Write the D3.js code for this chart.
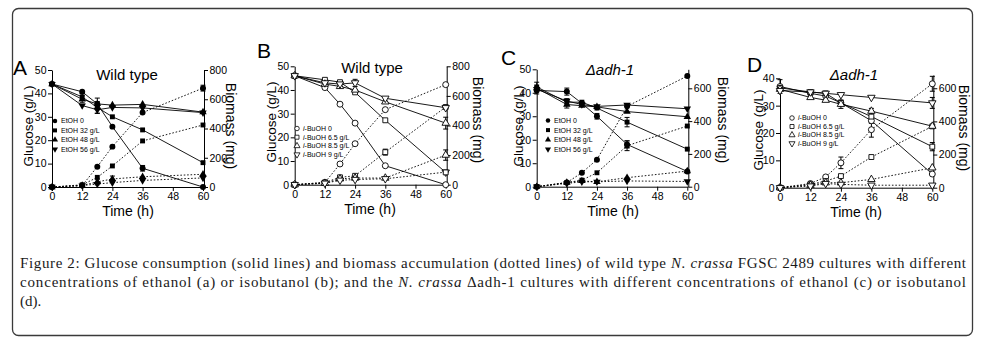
<!DOCTYPE html>
<html>
<head>
<meta charset="utf-8">
<script src="https://cdn.jsdelivr.net/npm/d3@7"></script>
<style>
body { margin: 0; background: #fff; }
svg text { font-family: "Liberation Sans", Arial, sans-serif; font-weight: 400; fill: #000; }
.caption { font-family: "Liberation Serif", "Times New Roman", serif; font-size: 15px; fill: #1a1a1a; }
</style>
</head>
<body>
<svg id="fig" width="981" height="341"></svg>
<script>
// Data ////////////////////////////////////////////////////////////////

var times = [0, 12, 18, 24, 36, 60];
var xTicks = [0, 12, 24, 36, 48, 60];

var etohLabels = ["EtOH 0", "EtOH 32 g/L", "EtOH 48 g/L", "EtOH 56 g/L"];
var ibuohLabels = ["0", "6.5 g/L", "8.5 g/L", "9 g/L"];

// A - wild type, ethanol
var glucoseA = [
    [44, 40.7, 35.5, 25.8, 8, 0],
    [44, 38.5, 34, 30, 24.4, 10.4],
    [44, 37.5, 35.5, 35, 35.3, 32],
    [44, 34.8, 33, 34, 33.8, 31.8]
];
var glucoseErrA = [
    [0.5, 1, 1, 0.5, 1.2, 0.3],
    [0.5, 1.5, 2.5, 0.5, 0.5, 0.5],
    [0.5, 1.5, 2.5, 0.5, 0.5, 0.5],
    [0.5, 1, 1.5, 0.5, 0.5, 0.5]
];
var biomassA = [
    [0, 10, 139, 276, 509, 676],
    [0, 15, 66, 144, 315, 424],
    [0, 10, 35, 55, 70, 87],
    [0, 10, 20, 30, 45, 62]
];
var biomassErrA = [
    [0, 5, 5, 5, 10, 20],
    [0, 5, 5, 5, 5, 5],
    [0, 5, 20, 20, 5, 10],
    [0, 5, 10, 10, 5, 5]
];

// B - wild type, isobutanol
var glucoseB = [
    [46, 41, 34, 26, 8, 0],
    [46, 44.3, 43.3, 39, 27.2, 5.2],
    [46, 42.5, 41.5, 40, 35, 26],
    [46, 43, 42.5, 43, 36.5, 32.5]
];
var glucoseErrB = [
    [0.5, 0.5, 0.5, 0.5, 0.5, 0.3],
    [0.5, 0.5, 0.5, 0.5, 0.5, 0.5],
    [0.5, 1, 1, 1, 1, 2.5],
    [0.5, 0.5, 0.5, 1.5, 1, 0.5]
];
var biomassB = [
    [0, 15, 140, 277, 507, 676],
    [0, 15, 50, 60, 220, 525],
    [0, 10, 40, 45, 45, 200],
    [0, 10, 30, 35, 40, 85]
];
var biomassErrB = [
    [0, 5, 5, 5, 5, 10],
    [0, 5, 5, 5, 20, 10],
    [0, 5, 5, 5, 5, 35],
    [0, 5, 5, 5, 5, 5]
];

// C - adh-1 deletion, ethanol
var glucoseC = [
    [41, 40.5, 35.5, 30, 18, 6.5],
    [42.5, 36, 36, 33.5, 27.5, 16],
    [42, 35, 34.5, 34, 32, 29.8],
    [41.5, 36.5, 35, 34.2, 34.8, 33.2]
];
var glucoseErrC = [
    [1.5, 1.5, 0.5, 1.2, 1.5, 0.5],
    [2, 1.5, 1, 1, 2, 0.5],
    [1, 1.5, 1, 0.5, 0.5, 0.3],
    [1, 1, 1, 0.5, 0.5, 0.3]
];
var biomassC = [
    [0, 25, 85, 165, 490, 675],
    [0, 25, 40, 85, 250, 370],
    [0, 25, 35, 30, 55, 95],
    [0, 20, 30, 30, 35, 32]
];
var biomassErrC = [
    [0, 5, 5, 5, 10, 10],
    [0, 5, 5, 5, 30, 5],
    [0, 5, 10, 5, 10, 5],
    [0, 5, 5, 5, 5, 5]
];

// D - adh-1 deletion, isobutanol
var glucoseD = [
    [37, 34.5, 33.5, 31, 24.5, 5],
    [36.5, 35, 34.5, 31, 26, 15],
    [36, 33, 32, 30.5, 28, 22.5],
    [35.5, 35, 34.5, 34, 33, 31]
];
var glucoseErrD = [
    [2.5, 0.5, 0.5, 0.5, 1, 0.5],
    [0.5, 0.5, 0.5, 1, 1.5, 1.5],
    [0.5, 0.5, 0.5, 1.5, 1, 0.5],
    [0.5, 0.5, 0.5, 0.5, 0.5, 2]
];
var biomassD = [
    [0, 25, 65, 150, 350, 627],
    [0, 20, 40, 70, 185, 370],
    [0, 15, 30, 30, 50, 120],
    [0, 10, 25, 20, 15, 15]
];
var biomassErrD = [
    [0, 5, 5, 35, 45, 45],
    [0, 5, 5, 5, 5, 10],
    [0, 5, 5, 5, 5, 5],
    [0, 5, 5, 5, 5, 5]
];

// Layout //////////////////////////////////////////////////////////////

var panels = [
    {letter: "A", title: "Wild type", italic: false, filled: true, names: etohLabels, prefix: false,
     glucose: glucoseA, glucoseErr: glucoseErrA, biomass: biomassA, biomassErr: biomassErrA,
     x0: 52, x1: 203, y0: 187, gTop: 70, gMax: 50, gTicks: [0, 10, 20, 30, 40, 50],
     bTop: 70, bMax: 800, bTicks: [0, 200, 400, 600, 800],
     letterPos: [13, 75], titlePos: [127, 80], gLab: [28, 126], bLab: [231, 126], tLab: [128, 216],
     legend: [55, 121, 9.4]},
    {letter: "B", title: "Wild type", italic: false, filled: false, names: ibuohLabels, prefix: true,
     glucose: glucoseB, glucoseErr: glucoseErrB, biomass: biomassB, biomassErr: biomassErrB,
     x0: 294.7, x1: 445.7, y0: 184.7, gTop: 66.3, gMax: 50, gTicks: [0, 10, 20, 30, 40, 50],
     bTop: 66.3, bMax: 800, bTicks: [0, 200, 400, 600, 800],
     letterPos: [257, 58], titlePos: [372, 73], gLab: [271, 122], bLab: [478, 120], tLab: [370, 214],
     legend: [297, 128.5, 8.7]},
    {letter: "C", title: "\u0394adh-1", italic: true, filled: true, names: etohLabels, prefix: false,
     glucose: glucoseC, glucoseErr: glucoseErrC, biomass: biomassC, biomassErr: biomassErrC,
     x0: 536.7, x1: 687.3, y0: 186.7, gTop: 69.3, gMax: 50, gTicks: [0, 10, 20, 30, 40, 50],
     bTop: 69.3, bMax: 716, bTicks: [0, 200, 400, 600],
     letterPos: [501, 65], titlePos: [610, 75], gLab: [518, 126], bLab: [723, 120], tLab: [613, 216],
     legend: [548, 120.5, 9.6]},
    {letter: "D", title: "\u0394adh-1", italic: true, filled: false, names: ibuohLabels, prefix: true,
     glucose: glucoseD, glucoseErr: glucoseErrD, biomass: biomassD, biomassErr: biomassErrD,
     x0: 780, x1: 932.3, y0: 187.7, gTop: 78.3, gMax: 40, gTicks: [0, 10, 20, 30, 40],
     bTop: 75, bMax: 680, bTicks: [0, 200, 400, 600],
     letterPos: [747, 72], titlePos: [854, 80], gLab: [758, 130], bLab: [964, 128], tLab: [856, 217],
     legend: [792, 118, 8.5]}
];

var symbolTypes = [d3.symbolCircle, d3.symbolSquare, d3.symbolTriangle, d3.symbolTriangle];
var symbolRot = [0, 0, 0, 180];

var svg = d3.select("#fig");

// Frame
svg.append("rect")
    .attr("x", 12.5).attr("y", 8.5)
    .attr("width", 960).attr("height", 327)
    .attr("rx", 6)
    .attr("fill", "none")
    .attr("stroke", "#3a3a3a")
    .attr("stroke-width", 1.3);

function styleAxis(sel) {
    sel.attr("font-size", 10.5).attr("font-family", "'Liberation Sans', Arial, sans-serif");
    sel.selectAll("path, line").attr("stroke", "#000").attr("stroke-width", 1);
    sel.selectAll("text").attr("fill", "#111");
}

function drawPanel(p) {
    var g = svg.append("g");

    var x = d3.scaleLinear().domain([0, 60]).range([p.x0, p.x1]);
    var yG = d3.scaleLinear().domain([0, p.gMax]).range([p.y0, p.gTop]);
    var yB = d3.scaleLinear().domain([0, p.bMax]).range([p.y0, p.bTop]);

    // Axes
    g.append("g")
        .attr("transform", "translate(0," + p.y0 + ")")
        .call(d3.axisBottom(x).tickValues(xTicks).tickSize(4).tickSizeOuter(0).tickPadding(2))
        .call(styleAxis);
    g.append("g")
        .attr("transform", "translate(" + p.x0 + ",0)")
        .call(d3.axisLeft(yG).tickValues(p.gTicks).tickSize(4).tickSizeOuter(0).tickPadding(1.5))
        .call(styleAxis);
    g.append("g")
        .attr("transform", "translate(" + (p.x1 + 1) + ",0)")
        .call(d3.axisRight(yB).tickValues(p.bTicks).tickSize(4).tickSizeOuter(0).tickPadding(1.5))
        .call(styleAxis);

    // Lines
    var gLine = d3.line().x(function(d, i) { return x(times[i]) }).y(function(d) { return yG(d) });
    var bLine = d3.line().x(function(d, i) { return x(times[i]) }).y(function(d) { return yB(d) });

    g.selectAll(".gluc-line")
        .data(p.glucose)
        .enter()
        .append("path")
            .attr("d", gLine)
            .attr("fill", "none")
            .attr("stroke", "#000")
            .attr("stroke-width", 0.9);

    g.selectAll(".bio-line")
        .data(p.biomass)
        .enter()
        .append("path")
            .attr("d", bLine)
            .attr("fill", "none")
            .attr("stroke", "#000")
            .attr("stroke-width", 0.9)
            .attr("stroke-dasharray", "1.6,1.8");

    // Error bars + markers
    var pts = [];
    p.biomass.forEach(function(s, k) {
        s.forEach(function(v, i) {
            pts.push({k: k, cx: x(times[i]), cy: yB(v), lo: yB(v - p.biomassErr[k][i]), hi: yB(v + p.biomassErr[k][i])});
        });
    });
    p.glucose.forEach(function(s, k) {
        s.forEach(function(v, i) {
            pts.push({k: k, cx: x(times[i]), cy: yG(v), lo: yG(v - p.glucoseErr[k][i]), hi: yG(v + p.glucoseErr[k][i])});
        });
    });

    var eb = g.selectAll(".err")
        .data(pts.filter(function(d) { return d.lo - d.hi > 5 }))
        .enter()
        .append("g")
            .attr("stroke", "#000")
            .attr("stroke-width", 1);
    eb.append("line").attr("x1", function(d) { return d.cx }).attr("x2", function(d) { return d.cx })
        .attr("y1", function(d) { return d.lo }).attr("y2", function(d) { return d.hi });
    eb.append("line").attr("x1", function(d) { return d.cx - 2.5 }).attr("x2", function(d) { return d.cx + 2.5 })
        .attr("y1", function(d) { return d.lo }).attr("y2", function(d) { return d.lo });
    eb.append("line").attr("x1", function(d) { return d.cx - 2.5 }).attr("x2", function(d) { return d.cx + 2.5 })
        .attr("y1", function(d) { return d.hi }).attr("y2", function(d) { return d.hi });

    g.selectAll(".mark")
        .data(pts)
        .enter()
        .append("path")
            .attr("d", function(d) { return d3.symbol().type(symbolTypes[d.k]).size(d.k == 0 ? 28 : 24)() })
            .attr("transform", function(d) { return "translate(" + d.cx + "," + d.cy + ") rotate(" + symbolRot[d.k] + ")" })
            .attr("fill", p.filled ? "#000" : "#fff")
            .attr("stroke", "#000")
            .attr("stroke-width", p.filled ? 0 : 0.9);

    // Legend
    var leg = g.selectAll(".legend")
        .data(p.names)
        .enter()
        .append("g")
            .attr("transform", function(d, i) { return "translate(" + p.legend[0] + "," + (p.legend[1] + i * p.legend[2]) + ")" });
    leg.append("path")
        .attr("d", function(d, i) { return d3.symbol().type(symbolTypes[i]).size(16)() })
        .attr("transform", function(d, i) { return "rotate(" + symbolRot[i] + ")" })
        .attr("fill", p.filled ? "#000" : "#fff")
        .attr("stroke", "#000")
        .attr("stroke-width", p.filled ? 0 : 0.8);
    var lt = leg.append("text")
        .attr("x", 6)
        .attr("dy", "0.35em")
        .attr("font-size", 7)
        .attr("fill", "#222");
    if (p.prefix) {
        lt.append("tspan").attr("font-style", "italic").text("i");
        lt.append("tspan").text(function(d) { return "-BuOH " + d });
    } else {
        lt.text(function(d) { return d });
    }

    // Labels
    g.append("text")
        .attr("x", p.letterPos[0]).attr("y", p.letterPos[1])
        .attr("font-size", 21)
        .text(p.letter);
    g.append("text")
        .attr("x", p.titlePos[0]).attr("y", p.titlePos[1])
        .attr("text-anchor", "middle")
        .attr("font-size", 15)
        .attr("font-style", p.italic ? "italic" : "normal")
        .text(p.title);
    g.append("text")
        .attr("transform", "translate(" + p.gLab[0] + "," + p.gLab[1] + ") rotate(-90)")
        .attr("text-anchor", "middle")
        .attr("dy", "0.35em")
        .attr("font-size", 13.5)
        .text("Glucose (g/L)");
    g.append("text")
        .attr("transform", "translate(" + p.bLab[0] + "," + p.bLab[1] + ") rotate(90)")
        .attr("text-anchor", "middle")
        .attr("dy", "0.35em")
        .attr("font-size", 14)
        .text("Biomass (mg)");
    g.append("text")
        .attr("x", p.tLab[0]).attr("y", p.tLab[1])
        .attr("text-anchor", "middle")
        .attr("font-size", 14)
        .text("Time (h)");
}

panels.forEach(drawPanel);

// Caption
var cap1 = svg.append("text").attr("class", "caption").attr("x", 20).attr("y", 268)
    .attr("textLength", 946).attr("lengthAdjust", "spacing");
cap1.append("tspan").text("Figure 2: Glucose consumption (solid lines) and biomass accumulation (dotted lines) of wild type ");
cap1.append("tspan").attr("font-style", "italic").text("N. crassa");
cap1.append("tspan").text(" FGSC 2489 cultures with different");

var cap2 = svg.append("text").attr("class", "caption").attr("x", 20).attr("y", 287)
    .attr("textLength", 946).attr("lengthAdjust", "spacing");
cap2.append("tspan").text("concentrations of ethanol (a) or isobutanol (b); and the ");
cap2.append("tspan").attr("font-style", "italic").text("N. crassa");
cap2.append("tspan").text(" \u0394adh-1 cultures with different concentrations of ethanol (c) or isobutanol");

svg.append("text").attr("class", "caption").attr("x", 20).attr("y", 306).text("(d).");
</script>
</body>
</html>
